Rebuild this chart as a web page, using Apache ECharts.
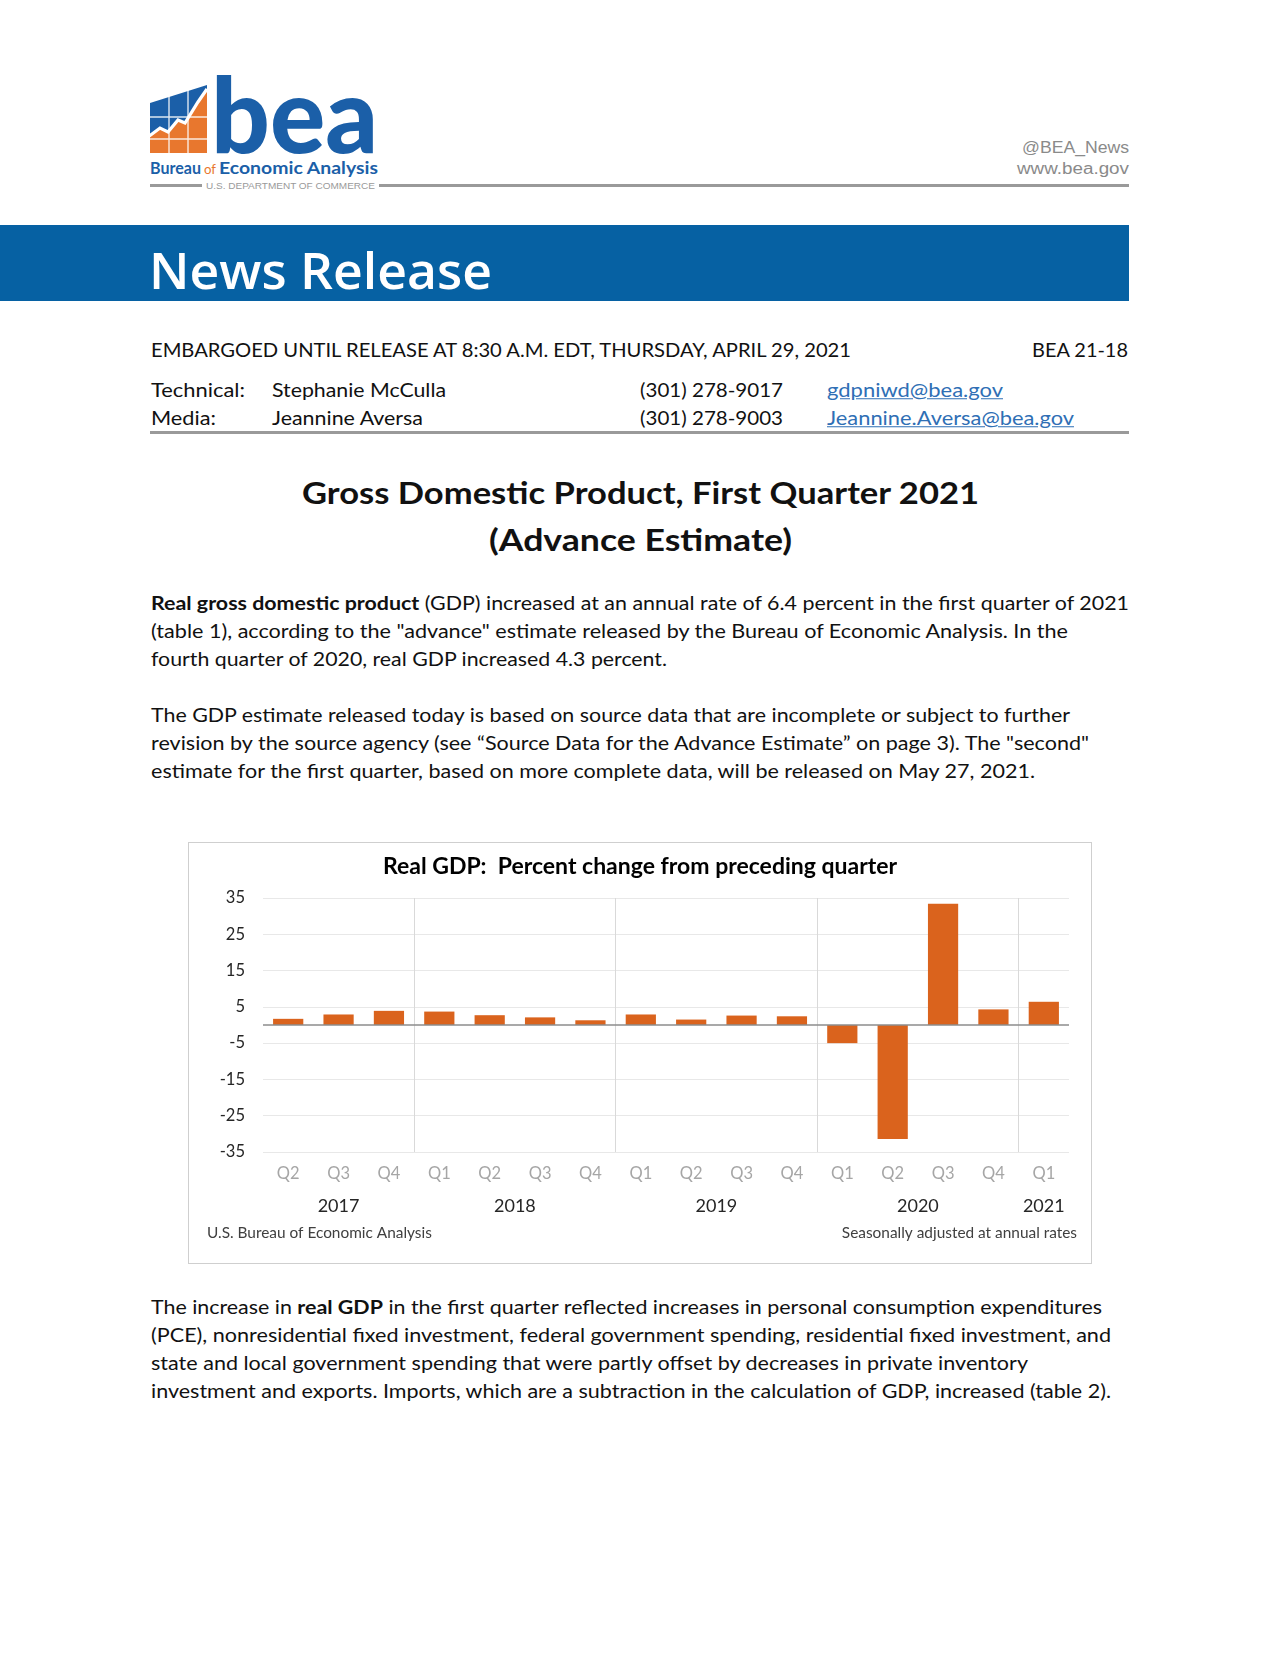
<!DOCTYPE html>
<html><head><meta charset="utf-8">
<script src="https://cdn.jsdelivr.net/npm/echarts@6/dist/echarts.min.js"></script>
<style>
html,body{margin:0;padding:0;background:#fff;}
body{width:1280px;height:1656px;position:relative;overflow:hidden;font-family:Lato,"Open Sans",sans-serif;color:#111;}
.t{position:absolute;white-space:nowrap;line-height:1;transform-origin:0 50%;}
.b{font-weight:bold;}
a{color:#2f6fb5;text-decoration:underline;}
#box{position:absolute;left:188px;top:842px;width:902px;height:420px;border:1px solid #cfcfcf;}
#chart{width:902px;height:420px;}
</style></head>
<body>
<!-- logo -->
<svg style="position:absolute;left:145px;top:70px" width="70" height="90" viewBox="0 0 70 90">
  <polygon points="5,33 62,15 62,83 5,83" fill="#1b5fa8"/>
  <polygon points="5,65 15,58 23,62 33,50 40,53 53,32 62,20 62,83 5,83" fill="#e8772e"/>
  <g stroke="#fff" stroke-width="1.4" opacity="0.85">
    <line x1="24" y1="25" x2="24" y2="83"/><line x1="43" y1="20" x2="43" y2="83"/>
    <line x1="5" y1="47" x2="62" y2="47"/><line x1="5" y1="69" x2="62" y2="69"/>
  </g>
  <polyline points="3,67 15,58 23,62 33,50 40,53 53,32 62,19" fill="none" stroke="#fff" stroke-width="3.2" stroke-linejoin="miter"/>
</svg>
<div class="t" data-w="167" style="left:211px;top:113px;font-size:104px;line-height:78px;font-weight:900;color:#1b5fa8">bea</div>
<div class="t" data-w="51" style="left:150px;top:168px;font-size:17.5px;font-weight:bold;color:#1b5fa8">Bureau</div>
<div class="t" data-w="12" style="left:204px;top:169px;font-size:14px;color:#e8772e">of</div>
<div class="t" data-w="159" style="left:219px;top:168px;font-size:17.5px;font-weight:bold;color:#1b5fa8">Economic Analysis</div>
<div style="position:absolute;left:150px;top:184px;width:52px;height:3px;background:#9a9a9a"></div>
<div class="t" data-w="169" style="left:206px;top:185.5px;font-size:9.5px;color:#9a9a9a;font-family:'Liberation Sans'">U.S. DEPARTMENT OF COMMERCE</div>
<div style="position:absolute;left:379px;top:184px;width:750px;height:3px;background:#9a9a9a"></div>
<div class="t" data-w="107" data-r="1129" style="top:148px;font-size:16px;color:#8a8a8a;font-family:'Liberation Sans'">@BEA_News</div>
<div class="t" data-w="112" data-r="1129" style="top:169px;font-size:16px;color:#8a8a8a;font-family:'Liberation Sans'">www.bea.gov</div>

<!-- banner -->
<div style="position:absolute;left:0;top:225px;width:1129px;height:76px;background:#0661a3"></div>
<div class="t" data-w="343" style="left:149px;top:270px;font-size:50px;color:#fff;font-family:'Open Sans';font-weight:600">News Release</div>

<!-- embargo and contacts -->
<div class="t" data-w="700" style="left:151px;top:350px;font-size:19.5px">EMBARGOED UNTIL RELEASE AT 8:30 A.M. EDT, THURSDAY, APRIL 29, 2021</div>
<div class="t" data-w="96" data-r="1128" style="top:350px;font-size:19.5px">BEA 21-18</div>
<div class="t" data-w="94" style="left:151px;top:390px;font-size:19.5px">Technical:</div>
<div class="t" data-w="174" style="left:272px;top:390px;font-size:19.5px">Stephanie McCulla</div>
<div class="t" data-w="143" style="left:640px;top:390px;font-size:19.5px">(301) 278-9017</div>
<div class="t" data-w="176" style="left:827px;top:390px;font-size:19.5px"><a>gdpniwd@bea.gov</a></div>
<div class="t" data-w="65" style="left:151px;top:418px;font-size:19.5px">Media:</div>
<div class="t" data-w="151" style="left:272px;top:418px;font-size:19.5px">Jeannine Aversa</div>
<div class="t" data-w="143" style="left:640px;top:418px;font-size:19.5px">(301) 278-9003</div>
<div class="t" data-w="247" style="left:827px;top:418px;font-size:19.5px"><a>Jeannine.Aversa@bea.gov</a></div>
<div style="position:absolute;left:150px;top:431px;width:979px;height:3px;background:#9a9a9a"></div>

<!-- headline -->
<div class="t b" data-w="677" data-c="640" style="top:492px;font-size:31px">Gross Domestic Product, First Quarter 2021</div>
<div class="t b" data-w="303" data-c="640" style="top:539px;font-size:31px">(Advance Estimate)</div>

<!-- paragraph 1 -->
<div class="t" data-w="978" style="left:151px;top:603px;font-size:19.5px"><b>Real gross domestic product</b> (GDP) increased at an annual rate of 6.4 percent in the first quarter of 2021</div>
<div class="t" data-w="917" style="left:151px;top:631px;font-size:19.5px">(table 1), according to the "advance" estimate released by the Bureau of Economic Analysis. In the</div>
<div class="t" data-w="516" style="left:151px;top:659px;font-size:19.5px">fourth quarter of 2020, real GDP increased 4.3 percent.</div>
<!-- paragraph 2 -->
<div class="t" data-w="919" style="left:151px;top:715px;font-size:19.5px">The GDP estimate released today is based on source data that are incomplete or subject to further</div>
<div class="t" data-w="938" style="left:151px;top:743px;font-size:19.5px">revision by the source agency (see “Source Data for the Advance Estimate” on page 3). The "second"</div>
<div class="t" data-w="884" style="left:151px;top:771px;font-size:19.5px">estimate for the first quarter, based on more complete data, will be released on May 27, 2021.</div>

<div id="box"><div id="chart"></div></div>

<!-- paragraph 3 -->
<div class="t" data-w="951" style="left:151px;top:1307px;font-size:19.5px">The increase in <b>real GDP</b> in the first quarter reflected increases in personal consumption expenditures</div>
<div class="t" data-w="960" style="left:151px;top:1335px;font-size:19.5px">(PCE), nonresidential fixed investment, federal government spending, residential fixed investment, and</div>
<div class="t" data-w="877" style="left:151px;top:1363px;font-size:19.5px">state and local government spending that were partly offset by decreases in private inventory</div>
<div class="t" data-w="960" style="left:151px;top:1391px;font-size:19.5px">investment and exports. Imports, which are a subtraction in the calculation of GDP, increased (table 2).</div>

<script>
// ---- chart data ----
const quarters = ['Q2','Q3','Q4','Q1','Q2','Q3','Q4','Q1','Q2','Q3','Q4','Q1','Q2','Q3','Q4','Q1'];
const years = ['2017','2018','2019','2020','2021'];
const quartersPerYear = [3, 4, 4, 4, 1];
const gdpChange = [1.7, 2.9, 3.9, 3.7, 2.7, 2.1, 1.3, 2.9, 1.5, 2.6, 2.4, -5.0, -31.4, 33.4, 4.3, 6.4];
const yTicks = [-35, -25, -15, -5, 5, 15, 25, 35];
const chartTitle = 'Real GDP:  Percent change from preceding quarter';
const sourceNote = 'U.S. Bureau of Economic Analysis';
const rateNote = 'Seasonally adjusted at annual rates';

// fit text widths
document.querySelectorAll('.t').forEach(el => {
  const target = parseFloat(el.dataset.w);
  const w = el.getBoundingClientRect().width;
  const s = target / w;
  if (el.dataset.r) el.style.left = (parseFloat(el.dataset.r) - target) + 'px';
  if (el.dataset.c) el.style.left = (parseFloat(el.dataset.c) - target / 2) + 'px';
  el.style.transform = 'translateY(-50%) scaleX(' + s + ')';
});

// derived axis positions for year groups
const boundaries = [];
const centers = [];
let acc = 0;
quartersPerYear.forEach((n, i) => {
  centers.push(acc + n / 2);
  acc += n;
  if (i < quartersPerYear.length - 1) boundaries.push(acc);
});
const total = acc;

const chart = echarts.init(document.getElementById('chart'), null, {renderer: 'canvas'});
chart.setOption({
  animation: false,
  textStyle: {fontFamily: 'Lato'},
  title: {
    text: chartTitle, left: 'center', top: 7,
    textStyle: {fontSize: 23, fontWeight: 'bold', color: '#000', fontFamily: 'Lato'}
  },
  grid: {left: 74, right: 22, top: 55, bottom: 111},
  xAxis: [
    {
      type: 'category', data: quarters, boundaryGap: true,
      axisLine: {show: false, onZero: false}, axisTick: {show: false},
      axisLabel: {interval: 0, color: '#a6a6a6', fontSize: 16.5, margin: 13},
      splitLine: {show: false}
    },
    {
      type: 'value', min: 0, max: total, position: 'bottom',
      axisLine: {show: false, onZero: false},
      axisTick: {show: false, customValues: boundaries},
      axisLabel: {
        customValues: centers, fontSize: 18, color: '#262626', margin: 45,
        formatter: v => { const i = centers.findIndex(c => Math.abs(c - v) < 1e-6); return i >= 0 ? years[i] : ''; }
      },
      splitLine: {show: true, lineStyle: {color: '#d9d9d9', width: 1}}
    }
  ],
  yAxis: {
    type: 'value', min: -35, max: 35,
    axisLine: {show: false}, axisTick: {show: false, customValues: yTicks},
    axisLabel: {customValues: yTicks, fontSize: 16.5, color: '#262626', margin: 18},
    splitLine: {show: true, lineStyle: {color: '#e8e8e8', width: 1}}
  },
  series: [{
    type: 'bar', data: gdpChange, xAxisIndex: 0, yAxisIndex: 0,
    barCategoryGap: '40%',
    itemStyle: {color: '#da631d'},
    markLine: {
      silent: true, symbol: 'none', label: {show: false},
      lineStyle: {color: '#8c8c8c', width: 1.5, type: 'solid'},
      data: [{yAxis: 0}]
    }
  }],
  graphic: [
    {type: 'text', left: 18, top: 383, style: {text: sourceNote, fontSize: 15.4, fill: '#404040', fontFamily: 'Lato'}},
    {type: 'text', right: 14, top: 383, style: {text: rateNote, fontSize: 15.4, fill: '#404040', fontFamily: 'Lato'}}
  ]
});
</script>
</body></html>
